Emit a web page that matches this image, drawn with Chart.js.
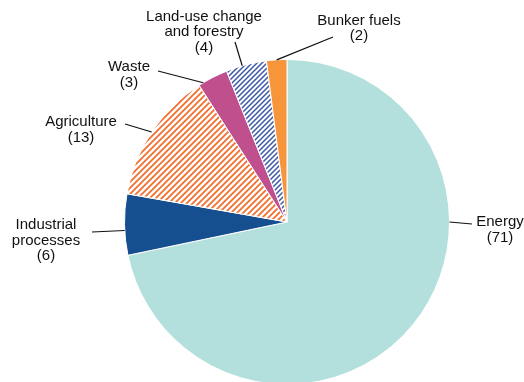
<!DOCTYPE html>
<html>
<head>
<meta charset="utf-8">
<script src="https://cdn.jsdelivr.net/npm/chart.js@4"></script>
<style>
  html, body { margin: 0; padding: 0; background: #fff; overflow: hidden; }
  #wrap { width: 524px; height: 382px; overflow: hidden; }
</style>
</head>
<body>
<div id="wrap"><canvas id="pie" width="524" height="450"></canvas></div>
<script>
// Emissions by source (shares)
const categories = ["Energy", "Industrial processes", "Agriculture", "Waste", "Land-use change and forestry", "Bunker fuels"];
const shares = [71, 6, 13, 3, 4, 2];

// Label text as it is split over lines
const labelLines = [
    ["Energy", "(71)"],
    ["Industrial", "processes", "(6)"],
    ["Agriculture", "(13)"],
    ["Waste", "(3)"],
    ["Land-use change", "and forestry", "(4)"],
    ["Bunker fuels", "(2)"]
];

// Where each label sits and where its leader line ends
const labelLayout = [
    { angle: 90, end: [472, 224], x: 500, y: 222 },
    { angle: 267, end: [92, 232], x: 46, y: 225 },
    { end: [125, 124], x: 81, y: 122 },
    { angle: 329, end: [158, 71], x: 129, y: 67 },
    { angle: 344, end: [235, 42], x: 204, y: 16.5 },
    { end: [333, 37], x: 359, y: 20.5 }
];

// Diagonal stripe pattern on white
function stripes(color, size, width) {
    const c = document.createElement("canvas");
    c.width = size;
    c.height = size;
    const g = c.getContext("2d");
    g.fillStyle = "#fff";
    g.fillRect(0, 0, size, size);
    g.strokeStyle = color;
    g.lineWidth = width;
    g.beginPath();
    g.moveTo(-1, size + 1); g.lineTo(size + 1, -1);
    g.moveTo(-1, 1); g.lineTo(1, -1);
    g.moveTo(size - 1, size + 1); g.lineTo(size + 1, size - 1);
    g.stroke();
    return g.createPattern(c, "repeat");
}

const colors = [
    "#b3e0dc",
    "#154f8f",
    stripes("#f26f30", 6, 1.8),
    "#c04f8e",
    stripes("#3b57a7", 5, 1.5),
    "#f7953a"
];

// Leader lines and labels
const labelPlugin = {
    id: "labels",
    afterDraw(chart) {
        const ctx = chart.ctx;
        const arcs = chart.getDatasetMeta(0).data;
        ctx.save();
        ctx.font = "15px 'Liberation Sans', Arial, sans-serif";
        ctx.fillStyle = "#111";
        ctx.strokeStyle = "#111";
        ctx.lineWidth = 1.2;
        ctx.textAlign = "center";
        ctx.textBaseline = "middle";
        arcs.forEach((arc, i) => {
            const lay = labelLayout[i];
            let a = (arc.startAngle + arc.endAngle) / 2;
            if (lay.angle !== undefined) a = (lay.angle - 90) * Math.PI / 180;
            const sx = arc.x + Math.cos(a) * arc.outerRadius;
            const sy = arc.y + Math.sin(a) * arc.outerRadius;
            ctx.beginPath();
            ctx.moveTo(sx, sy);
            ctx.lineTo(lay.end[0], lay.end[1]);
            ctx.stroke();
            labelLines[i].forEach((t, k) => {
                ctx.fillText(t, lay.x, lay.y + k * 15.5);
            });
        });
        ctx.restore();
    }
};

new Chart(document.getElementById("pie"), {
    type: "pie",
    data: {
        labels: categories,
        datasets: [{
            data: shares,
            backgroundColor: colors,
            borderColor: "#fff",
            borderWidth: 1
        }]
    },
    options: {
        responsive: false,
        animation: false,
        layout: { padding: { left: 124, right: 74, top: 59, bottom: 65 } },
        plugins: {
            legend: { display: false },
            tooltip: { enabled: false }
        }
    },
    plugins: [labelPlugin]
});
</script>
</body>
</html>
